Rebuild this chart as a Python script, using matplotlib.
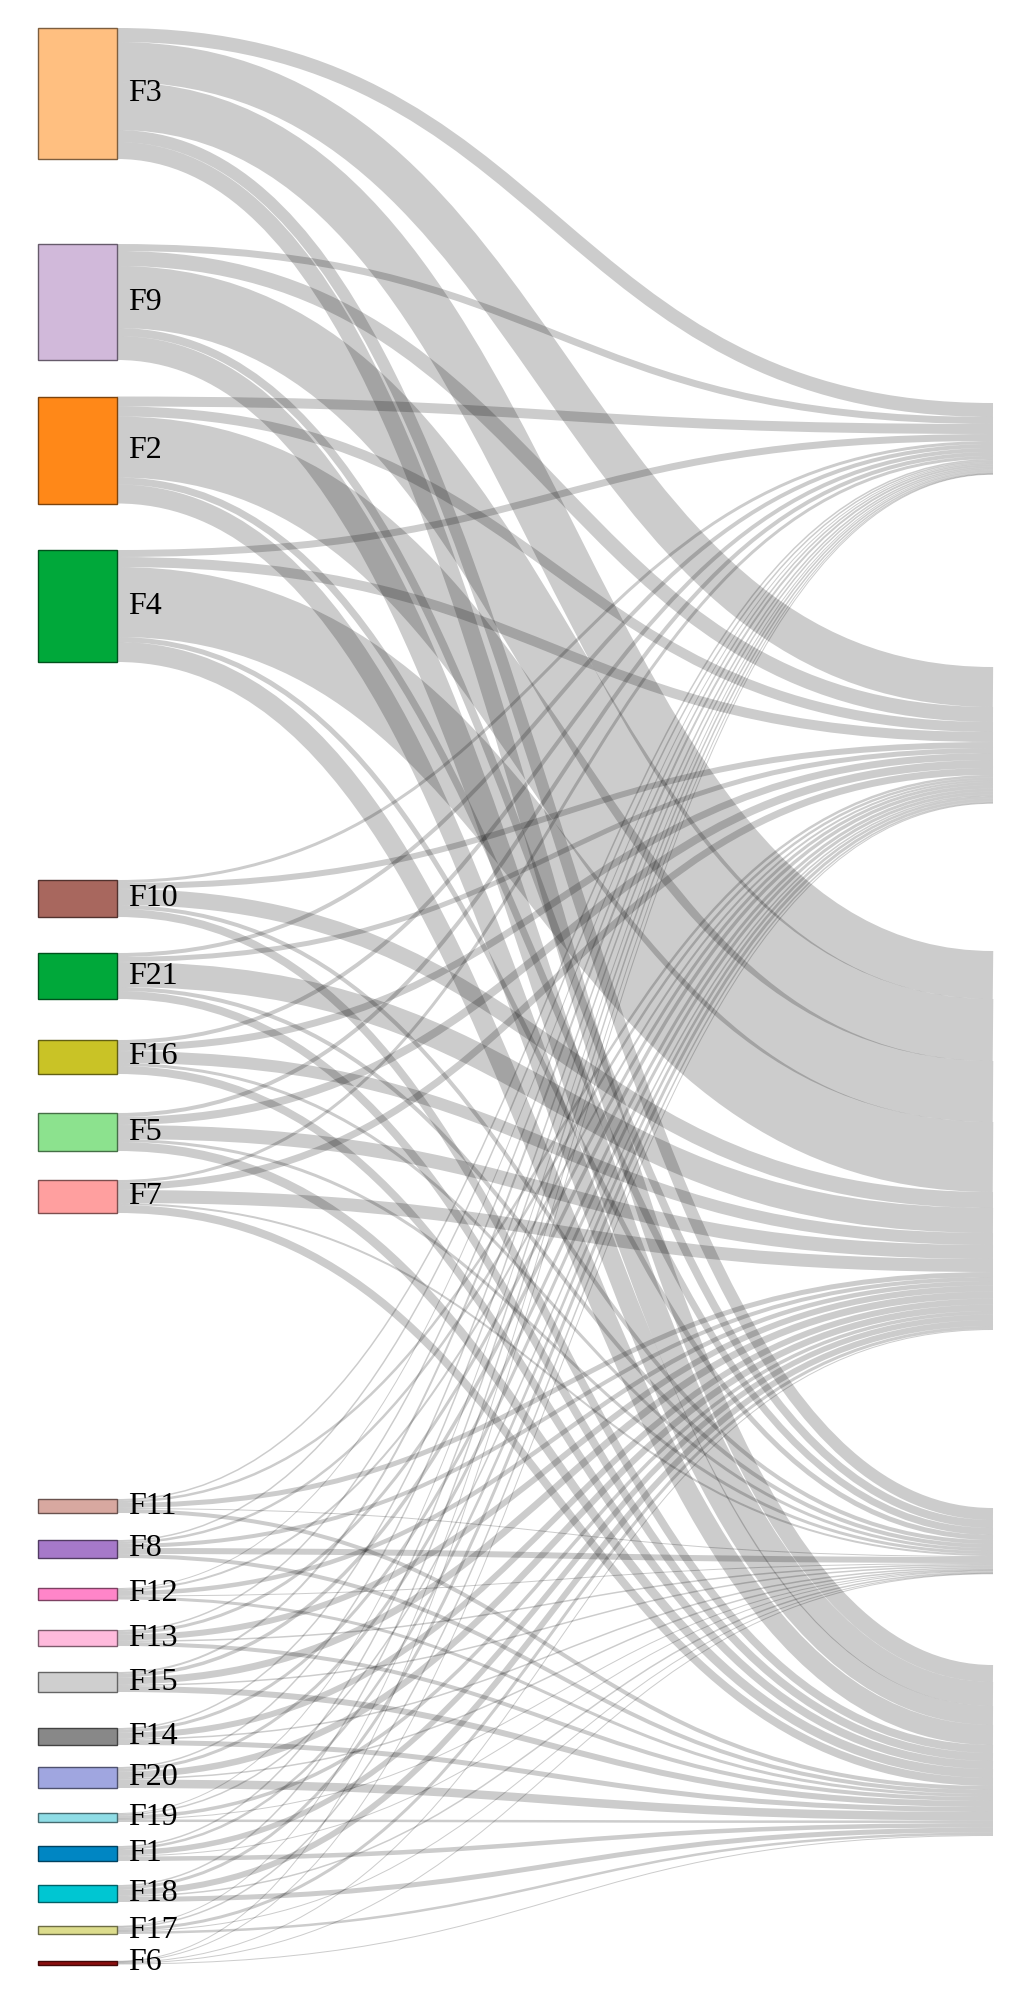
"""
plot.py
----------------------------------------------------------
Sankey-style flow chart: 21 feature nodes (F1..F21) on the left,
flows into five target nodes that sit just off the right edge.
"""

import matplotlib
matplotlib.use("Agg")
import matplotlib.pyplot as plt
from matplotlib.path import Path
from matplotlib.patches import PathPatch, Rectangle
from matplotlib.colors import to_rgb

# ---------------------------------------------------------------------
# 1. Data
# ---------------------------------------------------------------------
sources = ["F3", "F9", "F2", "F4", "F10", "F21", "F16", "F5", "F7",
           "F11", "F8", "F12", "F13", "F15", "F14", "F20", "F19",
           "F1", "F18", "F17", "F6"]
targets = ["T1", "T2", "T3", "T4", "T5"]

# flow from each source (same order as `sources`) into each target
to_t1 = [14, 7, 10, 7, 3, 4, 4, 4, 3,
         1.5, 1.5, 1, 1.5, 2, 1.5, 1.5, 1, 1.5, 1.5, 0.5, 0.5]
to_t2 = [40, 15, 10, 10, 6, 5, 7, 8, 7,
         2.5, 2.5, 2, 3, 3.5, 3, 3, 1.5, 2.5, 3, 1.5, 0.5]
to_t3 = [48, 62, 61, 70, 16, 25, 12, 14, 13,
         5, 4, 4.5, 6, 7, 6, 6.5, 3.5, 5.5, 6, 3, 1]
to_t4 = [12, 8, 7, 5, 4, 4, 3, 3, 2,
         1, 6, 1, 1.5, 1.5, 1.5, 1.5, 0.5, 1, 1.5, 0.5, 0.5]
to_t5 = [17, 24, 19, 20, 8, 8, 8, 9, 8,
         4, 4, 3, 4, 6, 5, 8.5, 2.5, 4.5, 5, 2.5, 1]

src_colors = ["#ffbf80", "#d1b9da", "#ff8818", "#00a83a", "#a8675e",
              "#00a83a", "#c9c326", "#8ce28e", "#ff9f9f", "#d8a8a0",
              "#a679c9", "#ff85c9", "#ffbadc", "#cfcfcf", "#888888",
              "#a0a6e0", "#8fdde6", "#0086c3", "#00c6d2", "#dcdc8c",
              "#8b1010"]

# ---------------------------------------------------------------------
# 2. Layout (pixel space, 1 value unit = 1 px)
# ---------------------------------------------------------------------
DPI = 100
W, H = 1019, 1997
NODE_X0, NODE_X1 = 38, 117
TARGET_X = 993
# vertical padding above each node (layout result of the original sankey)
src_pad = [28, 85, 36.5, 46.5, 218, 36, 41, 39, 29,
           286, 27, 30, 30.5, 26, 36, 22, 25, 24, 24, 24, 27]
tgt_pad = [403, 192.5, 147.5, 178, 91]

flows = [to_t1, to_t2, to_t3, to_t4, to_t5]
n_src, n_tgt = len(sources), len(targets)


def value(i, j):
    return flows[j][i]


src_top, y = [], 0.0
for i in range(n_src):
    y += src_pad[i]
    src_top.append(y)
    y += sum(value(i, j) for j in range(n_tgt))

tgt_top, y = [], 0.0
for j in range(n_tgt):
    y += tgt_pad[j]
    tgt_top.append(y)
    y += sum(value(i, j) for i in range(n_src))

# ---------------------------------------------------------------------
# 3. Drawing
# ---------------------------------------------------------------------
fig = plt.figure(figsize=(W / DPI, H / DPI), dpi=DPI)
ax = fig.add_axes([0, 0, 1, 1])
ax.set_xlim(0, W)
ax.set_ylim(H, 0)
ax.axis("off")

# link offsets: at a source, links sorted by target; at a target, by source
src_off = [0.0] * n_src
tgt_off = [0.0] * n_tgt
link_geo = {}
for i in range(n_src):
    for j in range(n_tgt):
        v = value(i, j)
        link_geo[(i, j)] = [src_top[i] + src_off[i] + v / 2, None, v]
        src_off[i] += v
for j in range(n_tgt):
    for i in range(n_src):
        v = value(i, j)
        link_geo[(i, j)][1] = tgt_top[j] + tgt_off[j] + v / 2
        tgt_off[j] += v

xm = (NODE_X1 + TARGET_X) / 2
for (i, j), (y0, y1, v) in link_geo.items():
    path = Path([(NODE_X1, y0), (xm, y0), (xm, y1), (TARGET_X, y1)],
                [Path.MOVETO, Path.CURVE4, Path.CURVE4, Path.CURVE4])
    ax.add_patch(PathPatch(path, fill=False, edgecolor=(0, 0, 0, 0.2),
                           lw=max(1.0, v) * 72 / DPI, capstyle="butt",
                           zorder=1))

for i, name in enumerate(sources):
    h = sum(value(i, j) for j in range(n_tgt))
    rgb = to_rgb(src_colors[i])
    edge = tuple(c * 0.49 for c in rgb)
    ax.add_patch(Rectangle((NODE_X0, src_top[i]), NODE_X1 - NODE_X0, h,
                           facecolor=rgb, edgecolor=edge, lw=1.0, zorder=3))
    ax.text(NODE_X1 + 11, src_top[i] + h / 2, name, ha="left", va="center",
            fontsize=23, family="Liberation Serif", color="black", zorder=4)

fig.savefig("out.png", dpi=DPI)
